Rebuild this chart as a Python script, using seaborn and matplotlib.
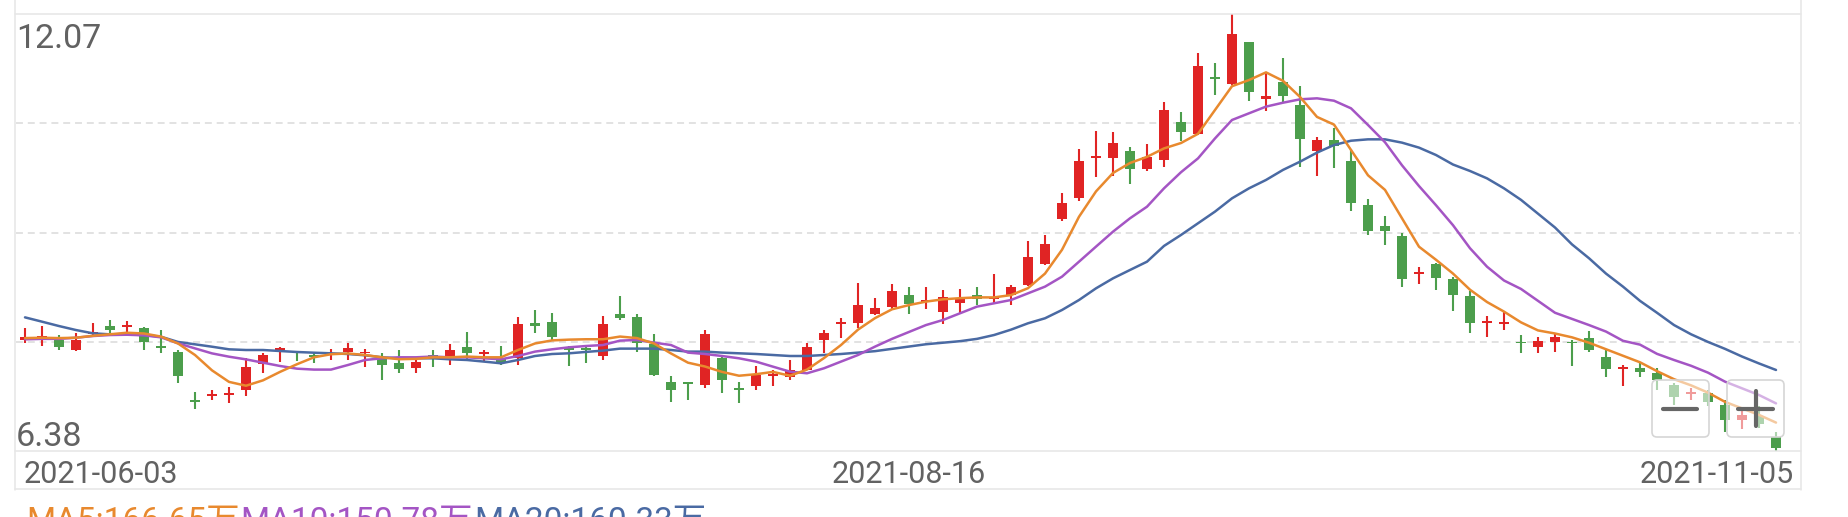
import numpy as np
import pandas as pd
import matplotlib
matplotlib.use("Agg")
import matplotlib.pyplot as plt
import matplotlib.transforms as mtransforms
from matplotlib.patches import FancyBboxPatch
from matplotlib.lines import Line2D
import seaborn as sns

# ---------------- data ----------------
open_ = [7.83, 7.84, 7.83, 7.70, 7.90, 8.01, 7.99, 7.98, 7.75, 7.67,
         7.03, 7.09, 7.11, 7.17, 7.51, 7.70, 7.66, 7.62, 7.63, 7.67,
         7.65, 7.59, 7.52, 7.46, 7.63, 7.60, 7.73, 7.64, 7.59, 7.59,
         8.05, 8.06, 7.70, 7.70, 7.62, 8.16, 8.12, 7.77, 7.28, 7.27,
         7.24, 7.59, 7.20, 7.22, 7.36, 7.34, 7.44, 7.82, 8.03, 8.05,
         8.17, 8.26, 8.41, 8.32, 8.19, 8.31, 8.41, 8.36, 8.41, 8.54,
         8.82, 9.40, 9.67, 10.20, 10.20, 10.29, 10.05, 10.17, 10.67, 10.51,
         11.25, 11.16, 11.70, 10.96, 11.19, 10.89, 10.28, 10.43, 10.16, 9.58,
         9.31, 9.18, 8.68, 8.82, 8.62, 8.40, 8.05, 8.03, 7.79, 7.74,
         7.80, 7.79, 7.85, 7.60, 7.45, 7.46, 7.40, 7.24, 7.12, 7.14,
         6.98, 6.78, 6.84, 6.56]
high = [7.98, 8.01, 7.89, 7.91, 8.05, 8.08, 8.07, 8.00, 7.95, 7.70,
        7.15, 7.17, 7.21, 7.59, 7.66, 7.74, 7.68, 7.67, 7.71, 7.79,
        7.71, 7.66, 7.69, 7.61, 7.69, 7.77, 7.93, 7.70, 7.75, 8.13,
        8.22, 8.18, 7.75, 7.75, 8.14, 8.40, 8.17, 7.90, 7.36, 7.28,
        7.96, 7.60, 7.28, 7.49, 7.44, 7.57, 7.79, 7.96, 8.11, 8.57,
        8.37, 8.56, 8.51, 8.51, 8.48, 8.49, 8.51, 8.68, 8.54, 9.12,
        9.19, 9.74, 10.31, 10.55, 10.53, 10.34, 10.38, 10.93, 10.79, 11.56,
        11.43, 12.07, 11.71, 11.32, 11.50, 11.13, 10.47, 10.58, 10.31, 9.66,
        9.44, 9.22, 8.77, 8.83, 8.65, 8.46, 8.14, 8.20, 7.89, 7.87,
        7.91, 7.83, 7.94, 7.70, 7.50, 7.54, 7.46, 7.26, 7.20, 7.18,
        7.04, 6.94, 6.96, 6.63]
low = [7.78, 7.75, 7.69, 7.68, 7.89, 7.89, 7.91, 7.70, 7.65, 7.27,
       6.93, 7.04, 7.01, 7.10, 7.40, 7.54, 7.55, 7.52, 7.56, 7.56,
       7.47, 7.31, 7.40, 7.39, 7.48, 7.50, 7.57, 7.54, 7.50, 7.50,
       7.91, 7.83, 7.49, 7.53, 7.57, 8.08, 7.67, 7.36, 7.02, 7.05,
       7.20, 7.14, 7.00, 7.18, 7.22, 7.31, 7.44, 7.66, 7.85, 7.98,
       8.15, 8.23, 8.17, 8.23, 8.03, 8.16, 8.28, 8.29, 8.28, 8.53,
       8.80, 9.37, 9.64, 9.95, 9.96, 9.86, 10.03, 10.08, 10.42, 10.50,
       11.02, 11.15, 10.94, 10.81, 10.93, 10.08, 9.96, 10.07, 9.50, 9.19,
       9.06, 8.51, 8.56, 8.48, 8.20, 7.91, 7.87, 7.96, 7.65, 7.65,
       7.67, 7.49, 7.67, 7.35, 7.23, 7.35, 7.17, 6.98, 7.04, 6.97,
       6.63, 6.66, 6.68, 6.38]
close = [7.87, 7.88, 7.74, 7.83, 7.92, 7.95, 8.01, 7.80, 7.72, 7.36,
         7.02, 7.12, 7.14, 7.48, 7.63, 7.71, 7.65, 7.61, 7.65, 7.72,
         7.66, 7.50, 7.45, 7.54, 7.60, 7.70, 7.66, 7.65, 7.53, 8.03,
         8.01, 7.87, 7.69, 7.69, 8.04, 8.11, 7.78, 7.37, 7.18, 7.25,
         7.90, 7.31, 7.18, 7.37, 7.37, 7.44, 7.73, 7.91, 8.04, 8.28,
         8.24, 8.46, 8.30, 8.33, 8.38, 8.37, 8.36, 8.37, 8.51, 8.91,
         9.08, 9.61, 10.16, 10.21, 10.39, 10.05, 10.21, 10.82, 10.53, 11.39,
         11.23, 11.81, 11.05, 11.00, 11.00, 10.44, 10.43, 10.35, 9.61, 9.25,
         9.24, 8.62, 8.70, 8.63, 8.41, 8.05, 8.06, 8.05, 7.78, 7.81,
         7.87, 7.78, 7.70, 7.45, 7.46, 7.41, 7.30, 7.08, 7.13, 7.02,
         6.78, 6.85, 6.73, 6.42]
ma5 = [7.85, 7.855, 7.85, 7.855, 7.88, 7.90, 7.92, 7.91, 7.87, 7.78,
       7.63, 7.43, 7.28, 7.23, 7.30, 7.41, 7.51, 7.60, 7.64, 7.65,
       7.63, 7.60, 7.575, 7.58, 7.60, 7.60, 7.61, 7.60, 7.60, 7.695,
       7.78, 7.82, 7.83, 7.835, 7.835, 7.87, 7.85, 7.78, 7.65, 7.53,
       7.48, 7.41, 7.36, 7.38, 7.41, 7.36, 7.44, 7.59, 7.76, 7.96,
       8.11, 8.225, 8.28, 8.325, 8.355, 8.37, 8.38, 8.38, 8.41, 8.50,
       8.69, 9.00, 9.43, 9.76, 10.00, 10.13, 10.21, 10.32, 10.39, 10.51,
       10.82, 11.13, 11.21, 11.31, 11.20, 10.99, 10.73, 10.63, 10.30, 9.97,
       9.78, 9.41, 9.04, 8.87, 8.69, 8.48, 8.32, 8.195, 8.055, 7.95,
       7.91, 7.86, 7.79, 7.705, 7.62, 7.535, 7.42, 7.315, 7.235, 7.14,
       7.02, 6.935, 6.85, 6.75]
ma10 = [7.834, 7.84, 7.84, 7.855, 7.877, 7.89, 7.894, 7.886, 7.86, 7.782,
        7.716, 7.651, 7.608, 7.573, 7.53, 7.487, 7.452, 7.44, 7.44, 7.50,
        7.565, 7.587, 7.60, 7.60, 7.61, 7.60, 7.60, 7.587, 7.574, 7.617,
        7.674, 7.704, 7.73, 7.747, 7.76, 7.817, 7.826, 7.791, 7.76, 7.661,
        7.643, 7.617, 7.587, 7.544, 7.478, 7.413, 7.392, 7.457, 7.544, 7.63,
        7.739, 7.84, 7.93, 8.02, 8.086, 8.173, 8.26, 8.303, 8.346, 8.433,
        8.52, 8.65, 8.845, 9.041, 9.236, 9.41, 9.561, 9.80, 10.01, 10.19,
        10.45, 10.69, 10.777, 10.864, 10.915, 10.959, 10.972, 10.941, 10.842, 10.625,
        10.40, 10.10, 9.83, 9.58, 9.32, 9.02, 8.78, 8.60, 8.49, 8.335,
        8.18, 8.10, 8.02, 7.935, 7.815, 7.765, 7.645, 7.565, 7.49, 7.40,
        7.283, 7.196, 7.109, 7.0]
ma20 = [8.12, 8.064, 8.007, 7.955, 7.912, 7.899, 7.899, 7.89, 7.868, 7.80,
        7.769, 7.738, 7.704, 7.695, 7.695, 7.682, 7.669, 7.66, 7.652, 7.643,
        7.626, 7.60, 7.587, 7.587, 7.587, 7.574, 7.565, 7.544, 7.522, 7.565,
        7.617, 7.643, 7.652, 7.67, 7.687, 7.713, 7.713, 7.713, 7.695, 7.674,
        7.674, 7.661, 7.652, 7.643, 7.63, 7.617, 7.617, 7.63, 7.643, 7.661,
        7.68, 7.71, 7.74, 7.77, 7.79, 7.81, 7.84, 7.89, 7.96, 8.043,
        8.108, 8.216, 8.346, 8.498, 8.628, 8.737, 8.845, 9.05, 9.193, 9.345,
        9.497, 9.67, 9.80, 9.909, 10.04, 10.147, 10.265, 10.364, 10.42, 10.438,
        10.438, 10.395, 10.33, 10.234, 10.11, 10.026, 9.93, 9.80, 9.65, 9.47,
        9.29, 9.07, 8.89, 8.69, 8.52, 8.335, 8.18, 8.02, 7.90, 7.80,
        7.71, 7.61, 7.52, 7.435]

y_max_label = "12.07"
y_min_label = "6.38"
date_labels = ["2021-06-03", "2021-08-16", "2021-11-05"]
date_idx = [0, 52, 103]
footer_texts = ["MA5:166.65万", "MA10:150.78万", "MA20:160.33万"]

# ---------------- styling ----------------
W, H, DPI = 1848, 517, 100
RED, GREEN = "#e02424", "#4c9e4c"
C_MA5, C_MA10, C_MA20 = "#e8892e", "#a455c4", "#4a6aa3"
TXT = "#626262"
FRAME = "#e6e6e6"

sns.set_theme(style="white")
plt.rcParams["font.family"] = ["Roboto", "Noto Sans CJK SC", "DejaVu Sans"]
plt.rcParams["lines.scale_dashes"] = False

fig = plt.figure(figsize=(W / DPI, H / DPI), dpi=DPI)
fig.patch.set_facecolor("white")

def fx(px):
    return px / W

def fy(py):
    return 1 - py / H

L, R, T, B = 16, 1800, 14, 451
ax = fig.add_axes([fx(L), fy(B), (R - L) / W, (B - T) / H])
ax.set_facecolor("none")
x0_px, step_px = 25.0, 17.0
ax.set_xlim((L - x0_px) / step_px, (R - x0_px) / step_px)
ymin, ymax = float(y_min_label), float(y_max_label)
ax.set_ylim(ymin, ymax)
for s in ax.spines.values():
    s.set_visible(False)
ax.set_xticks([])
ax.set_yticks([])

# dashed grid lines (4 equal bands)
for k in (1, 2, 3):
    ax.axhline(ymin + k * (ymax - ymin) / 4, color="#dadada", lw=1.1,
               dashes=(5, 3.5), zorder=0.5)

# candles
n = len(close)
x = np.arange(n)
o = np.array(open_); c = np.array(close); hi = np.array(high); lo = np.array(low)
cols = [RED if cc >= oo else GREEN for oo, cc in zip(o, c)]
ax.vlines(x, lo, hi, colors=cols, linewidth=1.5, zorder=2)
body = np.maximum(np.abs(c - o), 0.025)
ax.bar(x, body, bottom=np.minimum(o, c), width=0.64, color=cols,
       linewidth=0, zorder=2.2)

# moving averages via seaborn
df = pd.DataFrame({
    "idx": np.concatenate([x, x, x]),
    "value": ma5 + ma10 + ma20,
    "series": ["MA5"] * n + ["MA10"] * n + ["MA20"] * n,
})
sns.lineplot(data=df, x="idx", y="value", hue="series",
             hue_order=["MA20", "MA10", "MA5"],
             palette={"MA5": C_MA5, "MA10": C_MA10, "MA20": C_MA20},
             linewidth=1.8, legend=False, ax=ax, zorder=3)
ax.set_xlabel("")
ax.set_ylabel("")

# frame lines (figure level)
def fline(x1, y1, x2, y2, color=FRAME, lw=1.1, z=1):
    fig.add_artist(Line2D([fx(x1), fx(x2)], [fy(y1), fy(y2)], color=color,
                          lw=lw, transform=fig.transFigure, zorder=z))

fline(15, 0, 15, 490)
fline(1801, 0, 1801, 490)
fline(15, 14, 1801, 14)
fline(15, 451, 1801, 451)
fline(15, 489, 1801, 489)

# y labels
fig.text(fx(16), fy(48.5), y_max_label, fontsize=24.5, color=TXT, ha="left", va="baseline")
fig.text(fx(16), fy(446), y_min_label, fontsize=24.5, color=TXT, ha="left", va="baseline")

# date labels
fs = 22
blend = mtransforms.blended_transform_factory(ax.transData, fig.transFigure)
fig.text(fx(24), fy(483), date_labels[0], fontsize=fs, color=TXT, ha="left", va="baseline")
ax.text(date_idx[1], fy(483), date_labels[1], fontsize=fs, color=TXT, ha="center",
        va="baseline", transform=blend, clip_on=False)
fig.text(fx(1794), fy(483), date_labels[2], fontsize=fs, color=TXT, ha="right", va="baseline")

# footer (cut off at the bottom edge, as in the original screenshot)
fig.canvas.draw()
renderer = fig.canvas.get_renderer()
xpos = 26.0
for txt, col in zip(footer_texts, [C_MA5, C_MA10, C_MA20]):
    t = fig.text(fx(xpos), fy(531), txt, fontsize=24, color=col, ha="left", va="baseline")
    bb = t.get_window_extent(renderer)
    xpos = bb.x1 + 1

# zoom buttons overlay
ident = mtransforms.IdentityTransform()
for bx in (1652, 1727):
    fig.add_artist(FancyBboxPatch((bx, H - 437), 57, 57,
                                  boxstyle="round,pad=0,rounding_size=5",
                                  facecolor=(1, 1, 1, 0.55), edgecolor="#d6d6d6",
                                  lw=1.2, transform=ident, zorder=5))
fline(1663, 408.5, 1697, 408.5, color="#666666", lw=3.0, z=6)
fline(1738, 408.5, 1773, 408.5, color="#666666", lw=3.0, z=6)
fline(1755.5, 391, 1755.5, 426, color="#666666", lw=3.0, z=6)

fig.savefig("out.png", dpi=DPI, facecolor="white")
